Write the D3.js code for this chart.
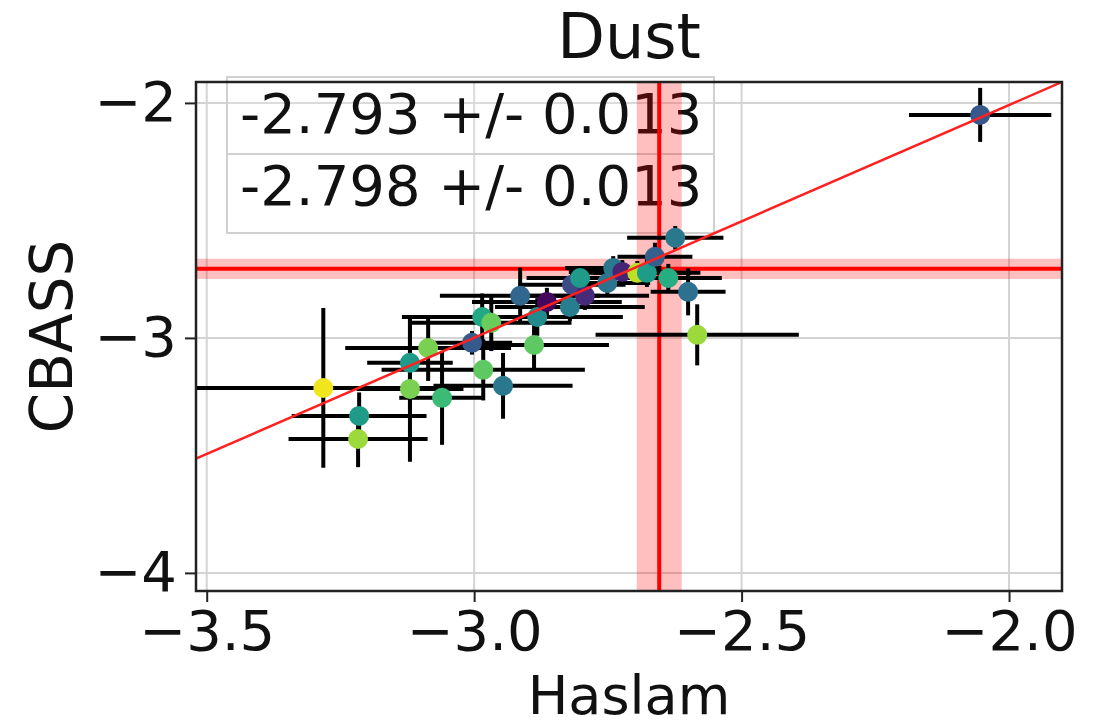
<!DOCTYPE html>
<html>
<head>
<meta charset="utf-8">
<script src="https://cdn.jsdelivr.net/npm/d3@7"></script>
<style>
  body { margin: 0; background: #fff; }
  svg { font-family: "DejaVu Sans", sans-serif; }
  .grid line { stroke: #d3d3d3; stroke-width: 2; }
</style>
</head>
<body>
<svg width="1108" height="726"></svg>
<script>
// spectral index per region, Haslam (x) vs CBASS (y)
const haslam = [-3.282, -3.215, -3.217, -3.120, -3.120, -3.086, -3.060, -3.004, -2.985, -2.968,
  -2.983, -2.946, -2.888, -2.914, -2.882, -2.864, -2.821, -2.817, -2.793, -2.802,
  -2.751, -2.740, -2.723, -2.695, -2.677, -2.662, -2.624, -2.637, -2.600, -2.583, -2.054];
const cbass = [-3.213, -3.332, -3.430, -3.217, -3.106, -3.043, -3.255, -3.021, -2.911, -2.936,
  -3.136, -3.204, -3.030, -2.821, -2.911, -2.847, -2.868, -2.774, -2.821, -2.745,
  -2.766, -2.702, -2.719, -2.723, -2.723, -2.655, -2.574, -2.745, -2.804, -2.987, -2.051];
const haslamErr = [0.24, 0.126, 0.13, 0.10, 0.08, 0.155, 0.08, 0.075, 0.15, 0.15,
  0.19, 0.13, 0.14, 0.15, 0.16, 0.14, 0.14, 0.10, 0.12, 0.10,
  0.08, 0.09, 0.10, 0.10, 0.10, 0.07, 0.09, 0.10, 0.07, 0.19, 0.133];
const cbassErr = [0.34, 0.10, 0.12, 0.31, 0.20, 0.14, 0.20, 0.05, 0.10, 0.12,
  0.13, 0.14, 0.10, 0.12, 0.08, 0.06, 0.06, 0.05, 0.06, 0.05,
  0.06, 0.05, 0.05, 0.05, 0.06, 0.06, 0.05, 0.06, 0.10, 0.13, 0.115];
const colorVal = [0.98, 0.55, 0.85, 0.80, 0.55, 0.80, 0.68, 0.28, 0.60, 0.77,
  0.75, 0.40, 0.75, 0.33, 0.48, 0.02, 0.42, 0.22, 0.12, 0.55,
  0.38, 0.40, 0.10, 0.90, 0.55, 0.30, 0.40, 0.62, 0.37, 0.85, 0.27];

const xTicks = [-3.5, -3.0, -2.5, -2.0];
const yTicks = [-2, -3, -4];

const fitSlope = 0.99, fitIntercept = -0.029;
const vLine = -2.654, vBand = 0.042;
const hLine = -2.706, hBand = 0.043;

const legendLabels = ['-2.793 +/- 0.013', '-2.798 +/- 0.013'];

const data = haslam.map((x, i) => ({x, y: cbass[i], xe: haslamErr[i], ye: cbassErr[i], c: colorVal[i]}));

const svg = d3.select('svg');
const pLeft = 196, pRight = 1062, pTop = 82, pBottom = 591;

const xScale = d3.scaleLinear().domain([-3.520, -1.901]).range([pLeft, pRight]);
const yScale = d3.scaleLinear().domain([-4.077, -1.911]).range([pBottom, pTop]);

svg.append('clipPath').attr('id', 'plot-clip')
  .append('rect').attr('x', pLeft).attr('y', pTop).attr('width', pRight - pLeft).attr('height', pBottom - pTop);

// grid
const grid = svg.append('g').attr('class', 'grid');
grid.selectAll('.gx').data(xTicks).enter().append('line')
  .attr('x1', d => xScale(d)).attr('x2', d => xScale(d)).attr('y1', pTop).attr('y2', pBottom);
grid.selectAll('.gy').data(yTicks).enter().append('line')
  .attr('y1', d => yScale(d)).attr('y2', d => yScale(d)).attr('x1', pLeft).attr('x2', pRight);

// legend frames
const legendG = svg.append('g');
[[77, 154], [154, 233]].forEach(([y0, y1]) => {
  legendG.append('rect')
    .attr('x', 227).attr('y', y0).attr('width', 487).attr('height', y1 - y0)
    .attr('fill', 'white').attr('fill-opacity', 0.2)
    .attr('stroke', '#d0d0d0').attr('stroke-width', 2);
});

const plot = svg.append('g').attr('clip-path', 'url(#plot-clip)');

// reference bands
plot.append('rect')
  .attr('x', xScale(vLine - vBand)).attr('width', xScale(vLine + vBand) - xScale(vLine - vBand))
  .attr('y', pTop).attr('height', pBottom - pTop)
  .attr('fill', '#ff0000').attr('fill-opacity', 0.25);
plot.append('rect')
  .attr('y', yScale(hLine + hBand)).attr('height', yScale(hLine - hBand) - yScale(hLine + hBand))
  .attr('x', pLeft).attr('width', pRight - pLeft)
  .attr('fill', '#ff0000').attr('fill-opacity', 0.25);
plot.append('line')
  .attr('x1', xScale(vLine)).attr('x2', xScale(vLine)).attr('y1', pTop).attr('y2', pBottom)
  .attr('stroke', '#ff0000').attr('stroke-width', 4);
plot.append('line')
  .attr('y1', yScale(hLine)).attr('y2', yScale(hLine)).attr('x1', pLeft).attr('x2', pRight)
  .attr('stroke', '#ff0000').attr('stroke-width', 4);

// error bars
const errG = plot.append('g').attr('stroke', 'black').attr('stroke-width', 4);
errG.selectAll('.ex').data(data).enter().append('line')
  .attr('x1', d => xScale(d.x - d.xe)).attr('x2', d => xScale(d.x + d.xe))
  .attr('y1', d => yScale(d.y)).attr('y2', d => yScale(d.y));
errG.selectAll('.ey').data(data).enter().append('line')
  .attr('x1', d => xScale(d.x)).attr('x2', d => xScale(d.x))
  .attr('y1', d => yScale(d.y - d.ye)).attr('y2', d => yScale(d.y + d.ye));

plot.selectAll('circle').data(data).enter().append('circle')
  .attr('cx', d => xScale(d.x)).attr('cy', d => yScale(d.y))
  .attr('r', 10)
  .attr('fill', d => d3.interpolateViridis(d.c));

// fit line
const xd = xScale.domain();
plot.append('line')
  .attr('x1', xScale(xd[0])).attr('y1', yScale(fitSlope * xd[0] + fitIntercept))
  .attr('x2', xScale(xd[1])).attr('y2', yScale(fitSlope * xd[1] + fitIntercept))
  .attr('stroke', '#ff2020').attr('stroke-width', 2.5);

// legend text
legendG.selectAll('text').data(legendLabels).enter().append('text')
  .attr('x', 240).attr('y', (d, i) => 133 + i * 72)
  .attr('font-size', 56).attr('fill', '#111')
  .text(d => d);

// spines
svg.append('rect')
  .attr('x', pLeft).attr('y', pTop).attr('width', pRight - pLeft).attr('height', pBottom - pTop)
  .attr('fill', 'none').attr('stroke', '#222').attr('stroke-width', 2.5);

// axes
const xAxis = d3.axisBottom(xScale).tickValues(xTicks).tickFormat(d3.format('.1f'))
  .tickSize(11).tickPadding(8);
const yAxis = d3.axisLeft(yScale).tickValues(yTicks).tickFormat(d3.format('d'))
  .tickSize(11).tickPadding(8);

const gx = svg.append('g').attr('transform', `translate(0,${pBottom})`).call(xAxis);
gx.select('.domain').remove();
gx.selectAll('.tick line').attr('stroke', '#222').attr('stroke-width', 2);
gx.selectAll('.tick text').attr('font-size', 56).attr('fill', '#111')
  .attr('font-family', '"DejaVu Sans", sans-serif').attr('dy', '0.71em');

const gy = svg.append('g').attr('transform', `translate(${pLeft},0)`).call(yAxis);
gy.select('.domain').remove();
gy.selectAll('.tick line').attr('stroke', '#222').attr('stroke-width', 2);
gy.selectAll('.tick text').attr('font-size', 56).attr('fill', '#111')
  .attr('font-family', '"DejaVu Sans", sans-serif');

// labels
svg.append('text')
  .attr('x', (pLeft + pRight) / 2).attr('y', 58)
  .attr('text-anchor', 'middle').attr('font-size', 62).attr('fill', '#111')
  .text('Dust');

svg.append('text')
  .attr('x', (pLeft + pRight) / 2).attr('y', 714)
  .attr('text-anchor', 'middle').attr('font-size', 54).attr('fill', '#111')
  .text('Haslam');

svg.append('text')
  .attr('transform', `translate(72,${(pTop + pBottom) / 2}) rotate(-90)`)
  .attr('text-anchor', 'middle').attr('font-size', 58).attr('fill', '#111')
  .text('CBASS');
</script>
</body>
</html>
